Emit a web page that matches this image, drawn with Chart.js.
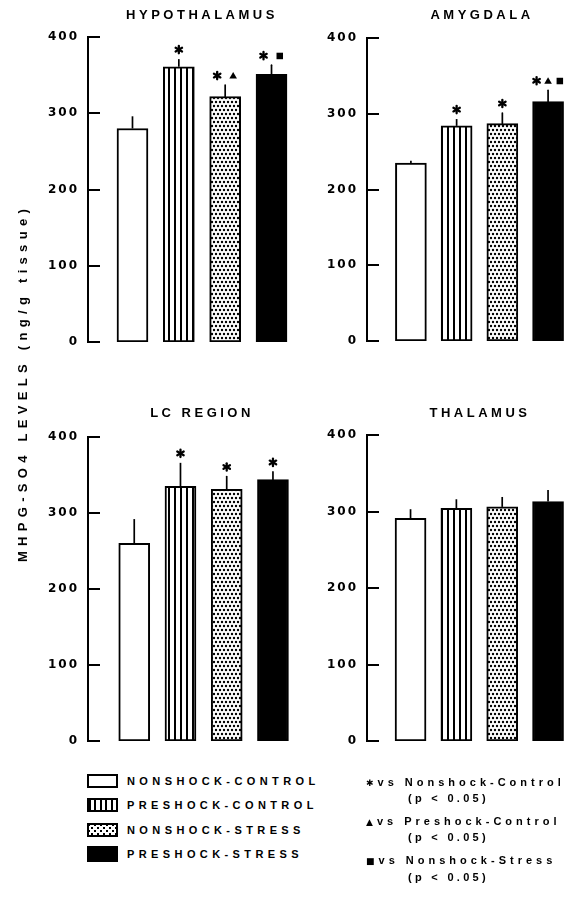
<!DOCTYPE html>
<html lang="en">
<head>
<meta charset="UTF-8">
<title>MHPG-SO4 levels</title>
<script src="https://cdn.jsdelivr.net/npm/chart.js"></script>
<style>
  body { margin:0; width:565px; height:897px; background:#fff; position:relative; overflow:hidden;
         font-family:"Liberation Sans", Arial, sans-serif; font-weight:bold; color:#000; }
  canvas { position:absolute; }
  .title { position:absolute; width:240px; text-align:center; font-size:13px; line-height:14px; letter-spacing:3.5px; }
  .ytitle { position:absolute; left:-177px; top:375px; width:400px; height:16px; line-height:16px; text-align:center;
            font-size:13px; letter-spacing:5.3px; transform:rotate(-90deg); }
  .leg { position:absolute; left:87px; font-size:11px; line-height:14px; letter-spacing:4.4px; white-space:nowrap; }
  .sw { position:absolute; left:0; width:27px; border:2px solid #000; }
  .leg span.t { position:absolute; left:40px; }
  .sig { position:absolute; font-size:11px; line-height:14px; letter-spacing:4px; white-space:nowrap; }
  .sig.p { letter-spacing:3.3px; }
</style>
</head>
<body>
  <canvas id="c0" width="297" height="360" style="left:0;top:0"></canvas>
  <canvas id="c1" width="286" height="360" style="left:279px;top:0"></canvas>
  <canvas id="c2" width="297" height="375" style="left:0;top:380px"></canvas>
  <canvas id="c3" width="286" height="375" style="left:279px;top:380px"></canvas>

  <div class="title" style="left:82px;top:8px">HYPOTHALAMUS</div>
  <div class="title" style="left:362px;top:8px">AMYGDALA</div>
  <div class="title" style="left:82px;top:406px">LC REGION</div>
  <div class="title" style="left:360px;top:406px">THALAMUS</div>
  <div class="ytitle">MHPG-SO4 LEVELS (ng/g tissue)</div>
  <div id="legend"></div>

  <script>
    const regions = ['HYPOTHALAMUS', 'AMYGDALA', 'LC REGION', 'THALAMUS']
    const groups = ['NONSHOCK-CONTROL', 'PRESHOCK-CONTROL', 'NONSHOCK-STRESS', 'PRESHOCK-STRESS']

    // mean and error (ng/g tissue), one value per group
    const hypoMean = [280, 361, 322, 351]
    const hypoErr = [16, 10, 15, 12]
    const hypoSig = ['', '*', '*▲', '*■']

    const amygMean = [235, 284, 287, 316]
    const amygErr = [3, 9, 14, 15]
    const amygSig = ['', '*', '*', '*▲■']

    const lcMean = [260, 335, 331, 344]
    const lcErr = [32, 31, 17, 10]
    const lcSig = ['', '*', '*', '*']

    const thalMean = [291, 304, 306, 313]
    const thalErr = [12, 12, 13, 15]
    const thalSig = ['', '', '', '']

    const yTicks = [0, 100, 200, 300, 400]
    const sigSymbols = ['*', '▲', '■']
    const sigLabels = ['vs Nonshock-Control', 'vs Preshock-Control', 'vs Nonshock-Stress']
    const pLabel = '(p < 0.05)'

    function makePattern(kind) {
      const c = document.createElement('canvas')
      const g = c.getContext('2d')
      if (kind == 'stripes') {
        c.width = 6; c.height = 4
        g.fillStyle = '#fff'; g.fillRect(0, 0, 6, 4)
        g.fillStyle = '#000'; g.fillRect(0, 0, 2, 4)
      } else {
        c.width = 8; c.height = 8
        g.fillStyle = '#fff'; g.fillRect(0, 0, 8, 8)
        g.fillStyle = '#000'
        ;[[2, 2], [6, 2], [0, 6], [4, 6], [8, 6]].forEach(p => {
          g.beginPath(); g.arc(p[0], p[1], 1.2, 0, Math.PI * 2); g.fill()
        })
      }
      return g.createPattern(c, 'repeat')
    }
    const fills = ['#fff', makePattern('stripes'), makePattern('dots'), '#000']

    function drawMark(ctx, s, x, y) {
      ctx.fillStyle = '#000'; ctx.strokeStyle = '#000'
      if (s == '*') {
        ctx.lineWidth = 2.3; ctx.lineCap = 'round'
        for (let k = 0; k < 3; k++) {
          const a = Math.PI / 2 + k * Math.PI / 3, r = 3.7
          ctx.beginPath()
          ctx.moveTo(x - r * Math.cos(a), y - r * Math.sin(a))
          ctx.lineTo(x + r * Math.cos(a), y + r * Math.sin(a))
          ctx.stroke()
        }
      } else if (s == '▲') {
        ctx.beginPath()
        ctx.moveTo(x, y - 3.5); ctx.lineTo(x + 3.8, y + 3); ctx.lineTo(x - 3.8, y + 3)
        ctx.closePath(); ctx.fill()
      } else if (s == '■') {
        ctx.fillRect(x - 3, y - 3, 6.5, 6.5)
      }
    }

    const panelDecor = {
      id: 'panelDecor',
      beforeDraw(chart) { chart.ctx.letterSpacing = '2px' },
      afterDatasetsDraw(chart) {
        const ctx = chart.ctx, y = chart.scales.y, ds = chart.data.datasets[0]
        const left = chart.chartArea.left
        ctx.save()
        ctx.letterSpacing = '0px'
        ctx.strokeStyle = '#000'
        ctx.lineWidth = 2
        yTicks.forEach(v => { // ticks point inward
          const py = Math.round(y.getPixelForValue(v))
          ctx.beginPath(); ctx.moveTo(left - 1, py); ctx.lineTo(left + 12, py); ctx.stroke()
        })
        chart.getDatasetMeta(0).data.forEach((bar, i) => {
          const top = y.getPixelForValue(ds.data[i].y + ds.errs[i])
          ctx.lineWidth = 1.7
          ctx.beginPath(); ctx.moveTo(bar.x, bar.y); ctx.lineTo(bar.x, top); ctx.stroke()
          const marks = [...ds.sig[i]]
          const gap = marks.length == 2 ? 16 : 11.5
          marks.forEach((m, k) => {
            drawMark(ctx, m, bar.x + (k - (marks.length - 1) / 2) * gap, top - 9.5)
          })
        })
        ctx.restore()
      }
    }

    function drawPanel(id, mean, err, sig, box) {
      return new Chart(document.getElementById(id), {
        type: 'bar',
        data: {
          datasets: [{
            label: regions[box.r],
            data: mean.map((v, i) => ({ x: i, y: v })),
            errs: err,
            sig: sig,
            backgroundColor: fills,
            borderColor: '#000',
            borderWidth: 2,
            borderSkipped: false,
            barThickness: 31
          }]
        },
        options: {
          responsive: false,
          animation: false,
          layout: { padding: { top: box.padTop, bottom: box.padBottom, left: 0, right: 0 } },
          plugins: { legend: { display: false }, tooltip: { enabled: false }, title: { display: false } },
          scales: {
            x: { type: 'linear', display: false, offset: false, grid: { offset: false }, min: box.xMin, max: box.xMax },
            y: {
              min: 0, max: 400,
              ticks: { stepSize: 100, color: '#000', padding: 1,
                       font: { family: 'DejaVu Sans', size: 12, weight: 'bold' } },
              grid: { display: false },
              border: { display: true, color: '#000', width: 2 },
              afterFit: s => { s.width = 88 }
            }
          }
        },
        plugins: [panelDecor]
      })
    }

    drawPanel('c0', hypoMean, hypoErr, hypoSig, { r: 0, padTop: 37, padBottom: 18, xMin: -0.96, xMax: 3.55 })
    drawPanel('c1', amygMean, amygErr, amygSig, { r: 1, padTop: 38, padBottom: 19, xMin: -0.96, xMax: 3.37 })
    drawPanel('c2', lcMean, lcErr, lcSig, { r: 2, padTop: 57, padBottom: 14, xMin: -1.0, xMax: 3.52 })
    drawPanel('c3', thalMean, thalErr, thalSig, { r: 3, padTop: 55, padBottom: 14, xMin: -0.95, xMax: 3.37 })

    // legend
    const swStyle = [
      'background:#fff',
      'background:repeating-linear-gradient(90deg,#000 0 2px,#fff 2px 5.5px)',
      'background:radial-gradient(circle,#000 0.9px,transparent 1.3px) 0 0/6px 6px,radial-gradient(circle,#000 0.9px,transparent 1.3px) 3px 3px/6px 6px,#fff',
      'background:#000'
    ]
    const legMid = [781, 805, 830, 854]
    const swH = [10, 10, 10, 12]
    let html = ''
    groups.forEach((g, i) => {
      const top = legMid[i] - (swH[i] + 4) / 2
      html += `<div class="leg" style="top:${top}px"><div class="sw" style="height:${swH[i]}px;${swStyle[i]}"></div>` +
              `<span class="t" style="top:${(swH[i] + 4 - 14) / 2}px">${g}</span></div>`
    })
    const sigTop = [775, 814, 853]
    const pTop = [791, 830, 870]
    const symChar = { '*': '✱', '▲': '▲', '■': '■' }
    sigSymbols.forEach((s, i) => {
      html += `<div class="sig" style="left:366px;top:${sigTop[i]}px"><span style="font-family:'DejaVu Sans';font-size:9px;letter-spacing:4px">${symChar[s]}</span>${sigLabels[i]}</div>`
      html += `<div class="sig p" style="left:408px;top:${pTop[i]}px">${pLabel}</div>`
    })
    document.getElementById('legend').innerHTML = html
  </script>
</body>
</html>
